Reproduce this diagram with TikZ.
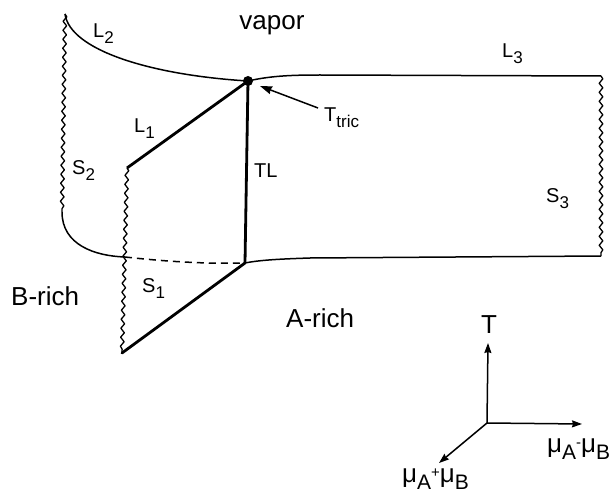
\documentclass[tikz,border=0pt]{standalone}
\usepackage{fontspec}
\setmainfont{Liberation Sans}
\usetikzlibrary{decorations.pathmorphing,arrows.meta}
\newcommand\lsub[1]{\raisebox{-6pt}{\fontsize{17}{17}\selectfont #1}}
\newcommand\msub[1]{\raisebox{-7pt}{\fontsize{21}{21}\selectfont #1}}
\newcommand\msup[1]{\raisebox{5pt}{\fontsize{15}{15}\selectfont #1}}
\begin{document}
\begin{tikzpicture}[x=1pt,y=-1pt,
  thinline/.style={line width=1.5pt},
  thickline/.style={line width=2.8pt},
  wavy/.style={line width=1.3pt,line join=round,decorate,decoration={snake,segment length=9pt,amplitude=1.8pt,pre length=0pt,post length=0pt}},
  biglabel/.style={inner sep=0pt,font=\fontsize{26}{30}\selectfont},
  smalllabel/.style={inner sep=0pt,font=\fontsize{20}{24}\selectfont},
  axis/.style={line width=1.5pt,-{Stealth[length=10pt,width=7pt,inset=1pt]}}]
\useasboundingbox (0,0) rectangle (613,497);
% key points
\coordinate (Tc) at (248,81);
\coordinate (L2top) at (65,14);
\coordinate (Lbend) at (62,212);
\coordinate (Ljoin) at (125,257);
\coordinate (L1end) at (127,168);
\coordinate (TLbot) at (245,263);
\coordinate (Sbot) at (122,353);
\coordinate (R1) at (601,76);
\coordinate (R2) at (601,256);
\coordinate (Bmid) at (310,258);
\coordinate (L3mid) at (320,75);
% surfaces edges
\draw[thinline] (L2top) .. controls (70,50) and (150,75) .. (Tc);
\draw[thinline] (Tc) .. controls (270,76) and (290,75) .. (L3mid) -- (R1);
\draw[wavy] (L2top) -- (Lbend);
\draw[thinline] (Lbend) .. controls (62,245) and (95,256) .. (Ljoin);
\draw[wavy] (L1end) -- (Sbot);
\draw[wavy] (R1) -- (R2);
\draw[thinline,dash pattern=on 7pt off 5pt] (Ljoin) .. controls (170,262) and (210,264) .. (TLbot);
\draw[thinline] (TLbot) .. controls (260,260) and (280,259) .. (Bmid) -- (R2);
\draw[thickline] (Tc) -- (L1end);
\draw[thickline] (Tc) -- (TLbot);
\draw[thickline,line cap=round] (TLbot) -- (Sbot);
\node[circle,fill,inner sep=0pt,minimum size=10pt] (tric) at (Tc) {};
% labels
\node[biglabel,anchor=base] (vapor) at (272,30) {vapor};
\node[biglabel,anchor=base west] (brich) at (11,305) {B-rich};
\node[biglabel,anchor=base west] (arich) at (286,327) {A-rich};
\node[smalllabel,anchor=base west] (l2) at (93,38) {L\lsub{2}};
\node[smalllabel,anchor=base west] (l1) at (134,133) {L\lsub{1}};
\node[smalllabel,anchor=base west] (s2) at (72,175) {S\lsub{2}};
\node[smalllabel,anchor=base west] (tl) at (254,178) {TL};
\node[smalllabel,anchor=base west] (ttric) at (324,122) {T\lsub{tric}};
\node[smalllabel,anchor=base west] (l3) at (502,58) {L\lsub{3}};
\node[smalllabel,anchor=base west] (s3) at (546,203) {S\lsub{3}};
\node[smalllabel,anchor=base west] (s1) at (142,292) {S\lsub{1}};
% pointer to tricritical point
\coordinate (ptail) at (318,108);
\coordinate (ptip) at (260,86);
\draw[line width=1.5pt,-{Stealth[length=12pt,width=8pt,inset=1pt]}] (ptail) -- (ptip);
% axes
\coordinate (O) at (487,423);
\coordinate (Ttip) at (488,343);
\coordinate (Xtip) at (582,424);
\coordinate (Ztip) at (439,463);
\draw[axis] (O) -- (Ttip);
\draw[axis] (O) -- (Xtip);
\draw[axis] (O) -- (Ztip);
\node[biglabel,anchor=base] (tlab) at (489,333) {T};
\node[biglabel,anchor=base west] (xlab) at (547,452) {μ\msub{A}\msup{-}μ\msub{B}};
\node[biglabel,anchor=base west] (zlab) at (402,482) {μ\msub{A}\msup{+}μ\msub{B}};
\end{tikzpicture}
\end{document}
